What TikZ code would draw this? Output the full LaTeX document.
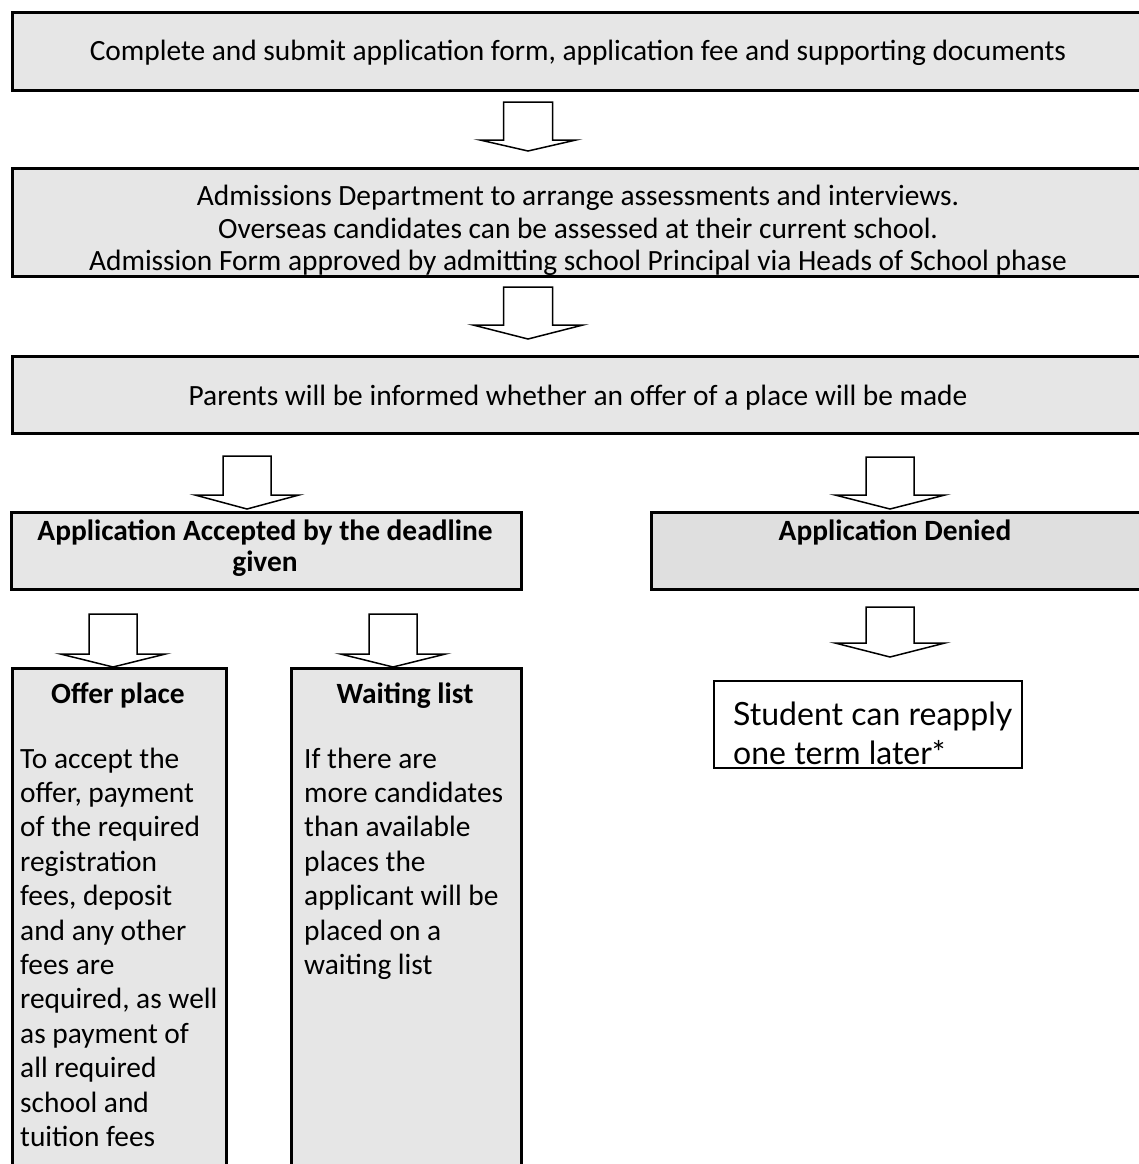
\documentclass[tikz,border=0pt]{standalone}
\usepackage{fontspec}
\setmainfont{Carlito}
\newfontfamily\studfont{Lato}
\definecolor{boxgray}{HTML}{E6E6E6}
\definecolor{dengray}{HTML}{DFDFDF}
\tikzset{
  box/.style={draw=black, line width=2.6pt, fill=boxgray, rectangle, inner sep=0pt, anchor=north west},
  denbox/.style={box, fill=dengray},
  whitebox/.style={draw=black, line width=2.2pt, fill=white, rectangle, inner sep=0pt, anchor=north west},
  txt/.style={inner sep=0pt, anchor=base, font=\fontsize{29.4}{34.4}\selectfont},
  ltxt/.style={inner sep=0pt, anchor=base west, font=\fontsize{29.4}{34.4}\selectfont},
  btxt/.style={txt, font=\fontsize{29.4}{34.4}\selectfont\bfseries},
  stxt/.style={inner sep=0pt, anchor=base west, font=\studfont\fontsize{32}{40}\selectfont},
  blockarrow/.style={draw=black, line width=1.5pt, fill=white, line join=miter}
}
\newcommand\stacklines[2]{\vtop{\baselineskip=#1\lineskiplimit=-100pt\lineskip=0pt\halign{##\hfil\cr#2\crcr}}}
\newcommand\downarrowshape[6]{% cx, top, heady, tip, stem half width, head half width
  \draw[blockarrow] ({#1-#5},#2) -- ({#1+#5},#2) -- ({#1+#5},#3) -- ({#1+#6},#3)
    -- (#1,#4) -- ({#1-#6},#3) -- ({#1-#5},#3) -- cycle;}
\begin{document}
\begin{tikzpicture}[x=1pt,y=-1pt]
\useasboundingbox (0,0) rectangle (1139,1164);
\clip (0,0) rectangle (1139,1164);
% boxes
\node[box, minimum width=1135pt, minimum height=78pt] (b1) at (11,11) {};
\node[box, minimum width=1135pt, minimum height=108pt] (b2) at (11,167) {};
\node[box, minimum width=1135pt, minimum height=77pt] (b3) at (11,355) {};
\node[box, minimum width=510pt, minimum height=77pt] (acc) at (10,511) {};
\node[denbox, minimum width=496pt, minimum height=77pt] (den) at (650,511) {};
\node[box, minimum width=214pt, minimum height=520pt] (offer) at (11,667) {};
\node[box, minimum width=230pt, minimum height=520pt] (wait) at (290,667) {};
\node[whitebox, minimum width=308pt, minimum height=87pt] (stud) at (713,680) {};
% texts
\node[txt] (t1) at (578,61) {Complete and submit application form, application fee and supporting documents};
\node[txt] (t2a) at (578,205) {Admissions Department to arrange assessments and interviews.};
\node[txt] (t2b) at (578,238) {Overseas candidates can be assessed at their current school.};
\node[txt] (t2c) at (578,270) {Admission Form approved by admitting school Principal via Heads of School phase};
\node[txt] (t3) at (578,405) {Parents will be informed whether an offer of a place will be made};
\node[btxt] (tacc1) at (265,540) {Application Accepted by the deadline};
\node[btxt] (tacc2) at (265,571) {given};
\node[btxt] (tden) at (895,540) {Application Denied};
\node[btxt] (toff) at (118,703) {Offer place};
\node[ltxt] (toffb) at (20,768) {\stacklines{34.4pt}{To accept the\cr offer, payment\cr of the required\cr registration\cr fees, deposit\cr and any other\cr fees are\cr required, as well\cr as payment of\cr all required\cr school and\cr tuition fees}};
\node[btxt] (twait) at (405,703) {Waiting list};
\node[ltxt] (twaitb) at (304,768) {\stacklines{34.4pt}{If there are\cr more candidates\cr than available\cr places the\cr applicant will be\cr placed on a\cr waiting list}};
\node[stxt] (tstud) at (733,725) {\stacklines{39pt}{Student can reapply\cr one term later*}};
% block arrows
\downarrowshape{528}{102}{140}{151}{24.5}{48}
\downarrowshape{528}{287}{325}{339}{24.5}{55}
\downarrowshape{247}{456}{495}{509}{24}{52}
\downarrowshape{890}{457}{495}{509}{24}{55}
\downarrowshape{113}{614}{654}{667}{24}{52.5}
\downarrowshape{393}{614}{654}{667}{24}{52.5}
\downarrowshape{890}{607}{643}{657}{24}{55}
\end{tikzpicture}
\end{document}
